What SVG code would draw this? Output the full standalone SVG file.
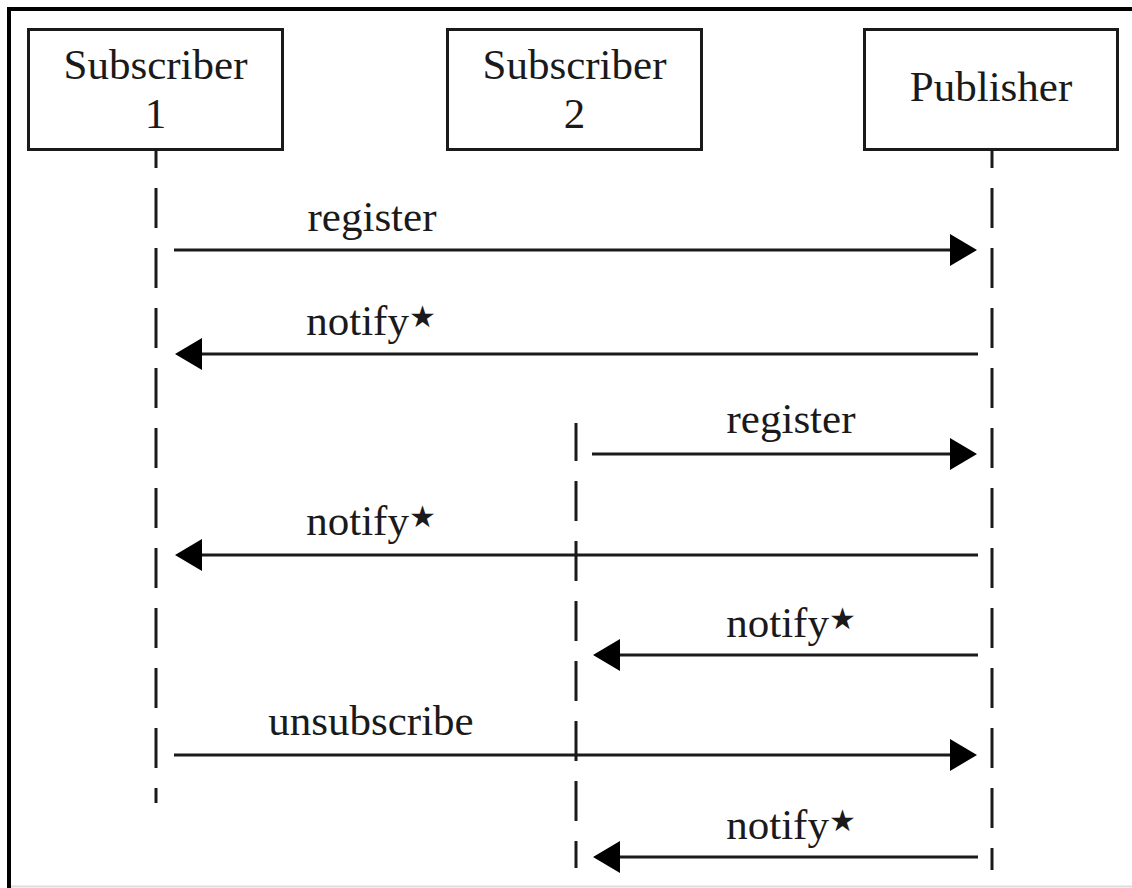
<svg xmlns="http://www.w3.org/2000/svg" width="1132" height="888" viewBox="0 0 1132 888">
  <style>
    .box { fill: #ffffff; stroke: #1a1a1a; stroke-width: 3; }
    .lbl { font-family: "Liberation Serif", "Times New Roman", serif; font-size: 43px; fill: #1a1a1a; text-anchor: middle; }
    .star { font-family: "DejaVu Sans", sans-serif; font-size: 30px; }
    .life { stroke: #1a1a1a; stroke-width: 3; stroke-dasharray: 40 20; fill: none; }
    .msg { stroke: #1a1a1a; stroke-width: 3; fill: none; marker-end: url(#arrow); }
  </style>
  <defs>
    <marker id="arrow" markerUnits="userSpaceOnUse" markerWidth="28" markerHeight="34" refX="24" refY="16" orient="auto">
      <path d="M0,0 L27,16 L0,32 Z" fill="#000000"/>
    </marker>
  </defs>
  <rect x="0" y="0" width="1132" height="888" fill="#ffffff"/>
  <g id="frame">
    <line x1="9" y1="9" x2="1132" y2="9" stroke="#000000" stroke-width="4"/>
    <line x1="9" y1="7" x2="9" y2="888" stroke="#000000" stroke-width="4"/>
    <line x1="11" y1="886.5" x2="1132" y2="886.5" stroke="#dddddd" stroke-width="2"/>
  </g>
  <g id="lifelines">
    <line class="life" x1="156" y1="150" x2="156" y2="803" stroke-dashoffset="22"/>
    <line class="life" x1="576" y1="423" x2="576" y2="868" stroke-dashoffset="2"/>
    <line class="life" x1="992" y1="150" x2="992" y2="870" stroke-dashoffset="22"/>
  </g>
  <g id="subscriber1">
    <rect class="box" x="28.5" y="29.5" width="254" height="120"/>
    <text class="lbl" x="155.5" y="79">Subscriber</text>
    <text class="lbl" x="155.5" y="128">1</text>
  </g>
  <g id="subscriber2">
    <rect class="box" x="447.5" y="29.5" width="254" height="120"/>
    <text class="lbl" x="574.5" y="79">Subscriber</text>
    <text class="lbl" x="574.5" y="128">2</text>
  </g>
  <g id="publisher">
    <rect class="box" x="864.5" y="29.5" width="253" height="120"/>
    <text class="lbl" x="991" y="101">Publisher</text>
  </g>
  <g id="connectors">
    <line class="msg" x1="174" y1="250" x2="974" y2="250"/>
    <line class="msg" x1="978" y1="354" x2="178" y2="354"/>
    <line class="msg" x1="592" y1="454" x2="974" y2="454"/>
    <line class="msg" x1="978" y1="555" x2="178" y2="555"/>
    <line class="msg" x1="978" y1="655" x2="596" y2="655"/>
    <line class="msg" x1="174" y1="755" x2="974" y2="755"/>
    <line class="msg" x1="978" y1="857" x2="596" y2="857"/>
  </g>
  <g id="labels">
    <text class="lbl" x="372" y="231">register</text>
    <text class="lbl" x="371" y="335">notify<tspan class="star" dy="-8">★</tspan></text>
    <text class="lbl" x="791" y="433">register</text>
    <text class="lbl" x="371" y="535">notify<tspan class="star" dy="-8">★</tspan></text>
    <text class="lbl" x="791" y="637">notify<tspan class="star" dy="-8">★</tspan></text>
    <text class="lbl" x="371" y="735">unsubscribe</text>
    <text class="lbl" x="791" y="839">notify<tspan class="star" dy="-8">★</tspan></text>
  </g>
</svg>
